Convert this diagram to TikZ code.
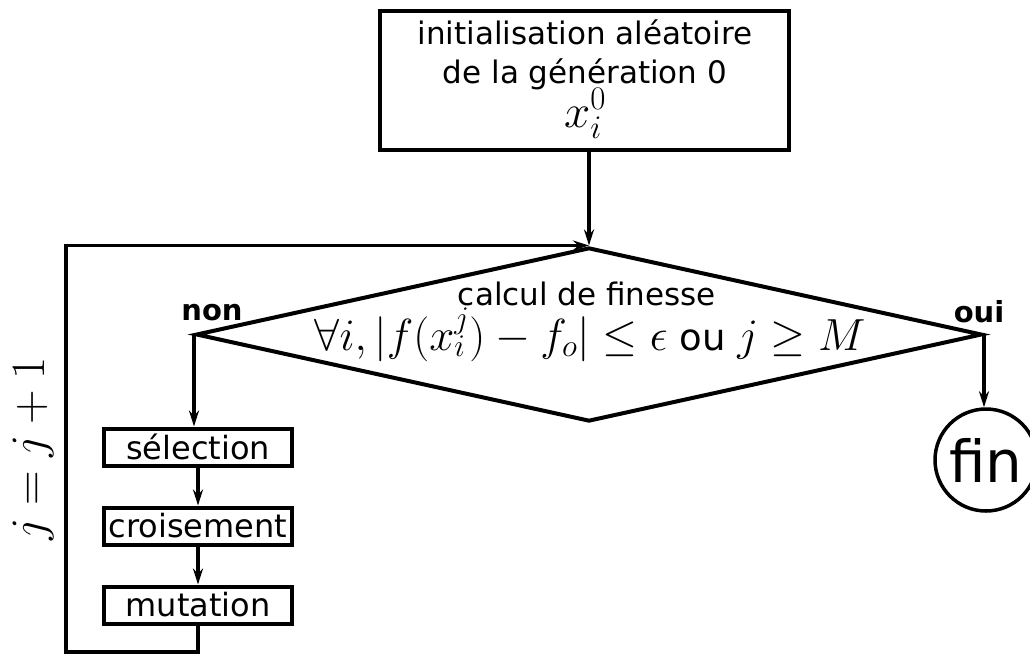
\RequirePackage{fix-cm}
\documentclass[tikz,border=0pt]{standalone}
\usepackage[no-math]{fontspec}
\setmainfont{DejaVu Sans}
\usetikzlibrary{arrows.meta,shapes.geometric}

\tikzset{
  bloc/.style={draw, line width=4pt, inner sep=0pt, align=center,
    font=\fontsize{31}{40}\selectfont},
  petitbloc/.style={bloc, minimum width=188pt, minimum height=37pt,
    font=\fontsize{32}{36}\selectfont},
  texte/.style={font=\fontsize{31}{40}\selectfont, anchor=base, inner sep=0pt},
  losange/.style={draw, diamond, line width=4pt, inner sep=0pt,
    minimum width=786pt, minimum height=174pt},
  fleche/.style={line width=3.5pt, -{Stealth[length=16pt,width=10pt]}},
  reponse/.style={font=\fontsize{29}{34}\selectfont\bfseries}
}

\begin{document}
\begin{tikzpicture}[x=1pt,y=-1pt]
  \useasboundingbox (0,0) rectangle (1030,657);
  % initialisation
  \node[bloc, minimum width=409pt, minimum height=139pt] (init) at (584,80) {};
  \node[texte] (ligne1) at (585,44) {initialisation aléatoire};
  \node[texte] (ligne2) at (585,83) {de la génération 0};
  \node[texte, font=\fontsize{47}{50}\selectfont] (xinit) at (585,127) {$x_i^0$};
  % test d'arret
  \node[losange] (test) at (589,334.5) {};
  \node[texte] (calcul) at (587,305) {calcul de finesse};
  \node[font=\fontsize{45}{48}\selectfont, anchor=base] (critere) at (590,350)
    {$\forall i, |f(x_i^j)-f_o| \leq \epsilon \mbox{\fontsize{37}{40}\selectfont\ ou\ } j \geq M$};
  \node[reponse, anchor=base] (non) at (212,320) {non};
  \node[reponse, anchor=base] (oui) at (979,322) {oui};
  % operateurs genetiques
  \node[petitbloc] (selection) at (198,447) {sélection};
  \node[petitbloc] (croisement) at (198,526) {croisement};
  \node[petitbloc] (mutation) at (198,605) {mutation};
  \node[draw, circle, line width=3.5pt, minimum size=102pt, inner sep=0pt,
    font=\fontsize{58}{58}\selectfont] (fin) at (986,460) {fin};
  \node[rotate=90, font=\fontsize{48}{48}\selectfont] (incr) at (33,449) {$j=j+1$};
  \coordinate (coin) at (66,652);

  \draw[fleche] (init.south -| test.north) -- (test.north);
  \draw[fleche] (test.west) -- (test.west |- selection.north);
  \draw[fleche] (selection) -- (croisement);
  \draw[fleche] (croisement) -- (mutation);
  \draw[fleche] (mutation.south) |- (coin) |- (test.north);
  \draw[fleche] (test.east) -- (test.east |- fin.north);
\end{tikzpicture}
\end{document}
